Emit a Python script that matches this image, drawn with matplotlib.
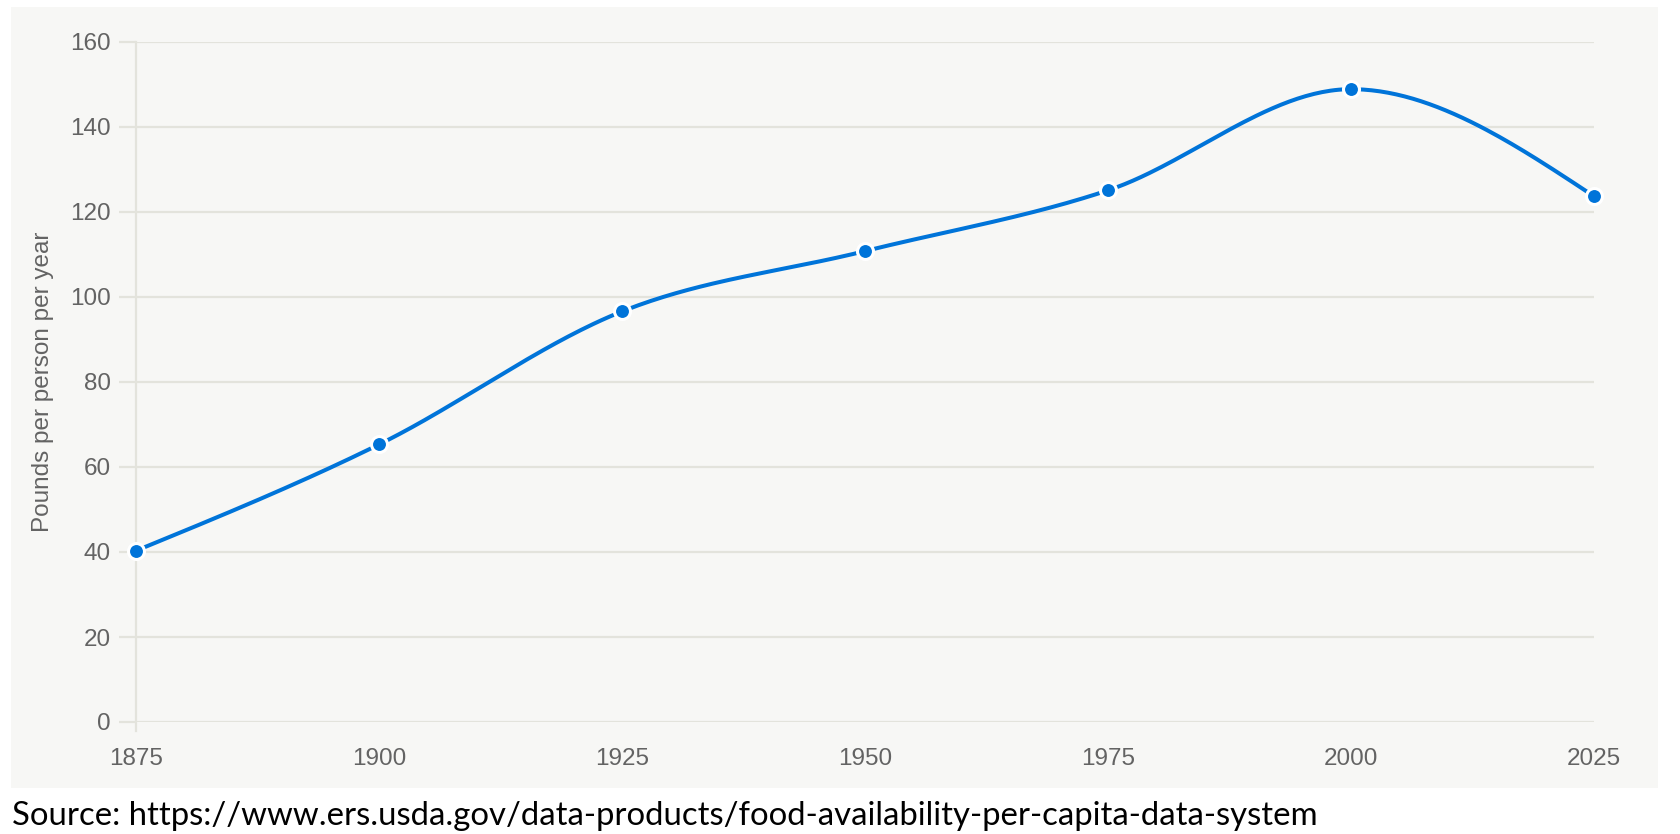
import numpy as np
import matplotlib
matplotlib.use("Agg")
import matplotlib.pyplot as plt
from matplotlib.patches import Rectangle

years = [1875, 1900, 1925, 1950, 1975, 2000, 2025]
pounds = [40.3, 65.3, 96.6, 110.8, 125.1, 148.9, 123.7]
y_ticks = [0, 20, 40, 60, 80, 100, 120, 140, 160]
x_ticks = [1875, 1900, 1925, 1950, 1975, 2000, 2025]
y_label = "Pounds per person per year"
source = "Source: https://www.ers.usda.gov/data-products/food-availability-per-capita-data-system"

BLUE = "#0074d9"
GRID = "#e3e3dc"
TXT = "#636363"
PANEL = "#f7f7f5"


def monotone_x(xs, ys, n=60):
    xs = np.asarray(xs, float)
    ys = np.asarray(ys, float)
    h = np.diff(xs)
    s = np.diff(ys) / h
    m = len(xs)
    t = np.zeros(m)
    for i in range(1, m - 1):
        s0, s1 = s[i - 1], s[i]
        p = (s0 * h[i] + s1 * h[i - 1]) / (h[i - 1] + h[i])
        v = (np.sign(s0) + np.sign(s1)) * min(abs(s0), abs(s1), 0.5 * abs(p))
        t[i] = v if v != 0 else 0.0
    t[0] = (3 * s[0] - t[1]) / 2
    t[-1] = (3 * s[-1] - t[-2]) / 2
    px, py = [], []
    for i in range(m - 1):
        dx = h[i] / 3
        x0, y0 = xs[i], ys[i]
        x3, y3 = xs[i + 1], ys[i + 1]
        x1, y1 = x0 + dx, y0 + dx * t[i]
        x2, y2 = x3 - dx, y3 - dx * t[i + 1]
        u = np.linspace(0, 1, n)
        bx = (1 - u) ** 3 * x0 + 3 * (1 - u) ** 2 * u * x1 + 3 * (1 - u) * u ** 2 * x2 + u ** 3 * x3
        by = (1 - u) ** 3 * y0 + 3 * (1 - u) ** 2 * u * y1 + 3 * (1 - u) * u ** 2 * y2 + u ** 3 * y3
        px.append(bx if i == 0 else bx[1:])
        py.append(by if i == 0 else by[1:])
    return np.concatenate(px), np.concatenate(py)


W, H = 1680, 834
fig = plt.figure(figsize=(W / 100, H / 100), dpi=100)
fig.patch.set_facecolor("white")

# chart panel background
panel = Rectangle((11 / W, 1 - 788 / H), (1658 - 11) / W, (788 - 7) / H,
                  transform=fig.transFigure, facecolor=PANEL,
                  edgecolor="none", zorder=-10)
fig.add_artist(panel)

left, right = 136, 1594
top, bottom = 42, 722
ax = fig.add_axes([left / W, 1 - bottom / H, (right - left) / W, (bottom - top) / H])
ax.set_zorder(1)
ax.set_facecolor("none")
ax.set_xlim(years[0], years[-1])
ax.set_ylim(0, 160)

ax.set_yticks(y_ticks)
ax.set_xticks(x_ticks)
ax.set_xticklabels([str(v) for v in x_ticks])
ax.grid(axis="y", color=GRID, lw=1.6, zorder=1)
ax.set_axisbelow(True)

for sp in ["top", "right", "bottom"]:
    ax.spines[sp].set_visible(False)
ax.spines["left"].set_color(GRID)
ax.spines["left"].set_linewidth(1.6)
ax.spines["left"].set_bounds(-2, 160)

ax.tick_params(axis="y", length=12, width=1.6, color=GRID, pad=6,
               labelsize=17.5, labelcolor=TXT)
ax.tick_params(axis="x", length=0, pad=19, labelsize=17.5, labelcolor=TXT)
for lab in ax.get_xticklabels() + ax.get_yticklabels():
    lab.set_fontfamily("Liberation Sans")

ax.set_ylabel(y_label, fontsize=17.5, color=TXT, family="Liberation Sans")
ax.yaxis.label.set_va("center")
ax.yaxis.set_label_coords((43 - left) / (right - left), (bottom - 382) / (bottom - top))

cx, cy = monotone_x(years, pounds)
ax.plot(cx, cy, color=BLUE, lw=2.9, clip_on=False, zorder=3, solid_capstyle="round")
ax.plot(years, pounds, linestyle="none", marker="o", markersize=11.5,
        markerfacecolor=BLUE, markeredgecolor="white", markeredgewidth=2.2,
        clip_on=False, zorder=4)

fig.text(12 / W, 9 / H, source, fontsize=23.7, color="black", family="Lato",
         ha="left", va="baseline")

fig.savefig("out.png", dpi=100)
